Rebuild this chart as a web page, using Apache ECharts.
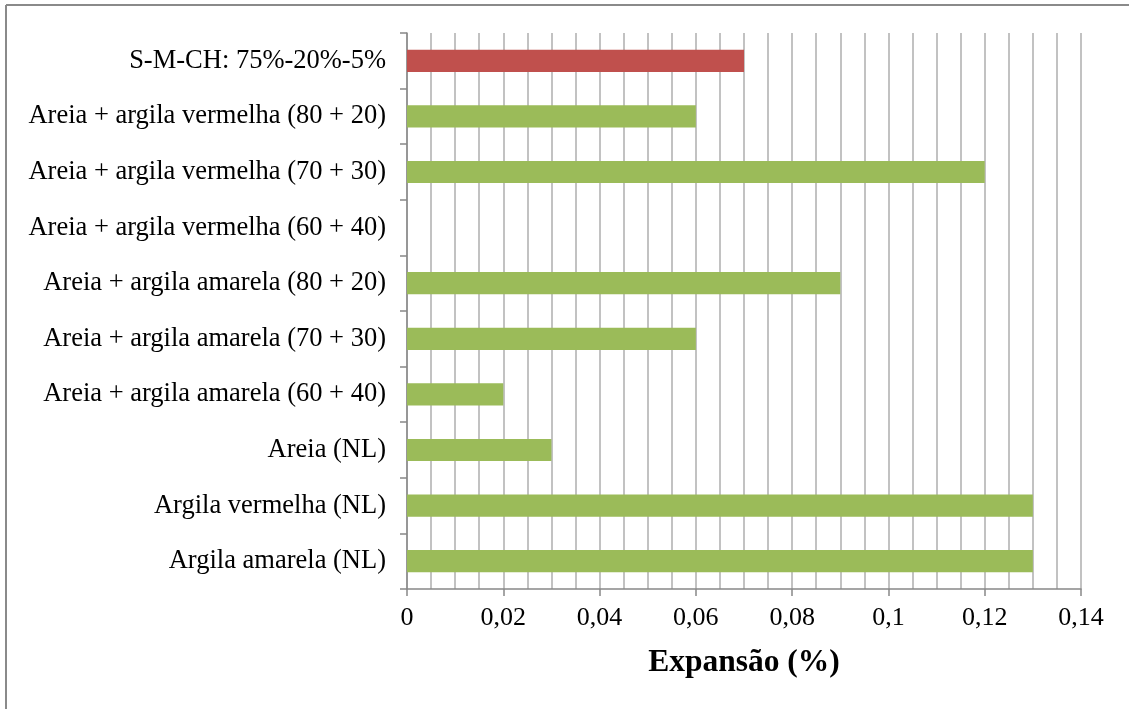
<!DOCTYPE html>
<html>
<head>
<meta charset="utf-8">
<style>
  html, body { margin: 0; padding: 0; background: #fff; }
  #chart { width: 1129px; height: 709px; }
</style>
<script src="https://cdn.jsdelivr.net/npm/echarts@6/dist/echarts.min.js"></script>
</head>
<body>
<div id="chart"></div>
<script>
// Categories listed from top to bottom
const categories = [
  'S-M-CH: 75%-20%-5%',
  'Areia + argila vermelha (80 + 20)',
  'Areia + argila vermelha (70 + 30)',
  'Areia + argila vermelha (60 + 40)',
  'Areia + argila amarela (80 + 20)',
  'Areia + argila amarela (70 + 30)',
  'Areia + argila amarela (60 + 40)',
  'Areia (NL)',
  'Argila vermelha (NL)',
  'Argila amarela (NL)'
];
const expansao = [0.07, 0.06, 0.12, 0, 0.09, 0.06, 0.02, 0.03, 0.13, 0.13];
const xTicks = [0, 0.02, 0.04, 0.06, 0.08, 0.1, 0.12, 0.14];
const axisTitle = 'Expansão (%)';
const highlightCategory = 'S-M-CH: 75%-20%-5%';

const chart = echarts.init(document.getElementById('chart'));
const font = "'Liberation Serif', 'Times New Roman', serif";

chart.setOption({
  animation: false,
  backgroundColor: '#fff',
  textStyle: { fontFamily: font },
  graphic: [
    { type: 'line', shape: { x1: 6, y1: 5, x2: 1129, y2: 5 }, style: { stroke: '#8a8a8a', lineWidth: 2 } },
    { type: 'line', shape: { x1: 6, y1: 5, x2: 6, y2: 709 }, style: { stroke: '#8a8a8a', lineWidth: 2 } }
  ],
  grid: { left: 407, top: 33, right: 48, bottom: 120, containLabel: false },
  xAxis: {
    type: 'value',
    min: xTicks[0],
    max: xTicks[xTicks.length - 1],
    interval: 0.02,
    name: axisTitle,
    nameLocation: 'middle',
    nameGap: 58,
    nameTextStyle: { fontFamily: font, fontSize: 31.5, fontWeight: 'bold', color: '#000' },
    axisLine: { show: true, lineStyle: { color: '#888', width: 1.5 } },
    axisTick: { show: true, length: 7, lineStyle: { color: '#888', width: 1.5 } },
    axisLabel: {
      margin: 16,
      fontFamily: font, fontSize: 26, color: '#000',
      formatter: v => String(Math.round(v * 100) / 100).replace('.', ',')
    },
    splitLine: { show: true, lineStyle: { color: '#c2c2c2', width: 2 } },
    minorTick: { show: false, splitNumber: 4 },
    minorSplitLine: { show: true, lineStyle: { color: '#c2c2c2', width: 2 } }
  },
  yAxis: {
    type: 'category',
    data: categories,
    inverse: true,
    axisLine: { show: true, lineStyle: { color: '#888', width: 1.5 } },
    axisTick: { show: true, length: 7, lineStyle: { color: '#888', width: 1.5 } },
    axisLabel: { margin: 21, fontFamily: font, fontSize: 26.5, color: '#000' },
    splitLine: { show: false }
  },
  series: [{
    type: 'bar',
    data: expansao,
    barCategoryGap: '60%',
    itemStyle: {
      color: p => categories[p.dataIndex] === highlightCategory ? '#C0504D' : '#9BBB59'
    }
  }]
});
</script>
</body>
</html>
